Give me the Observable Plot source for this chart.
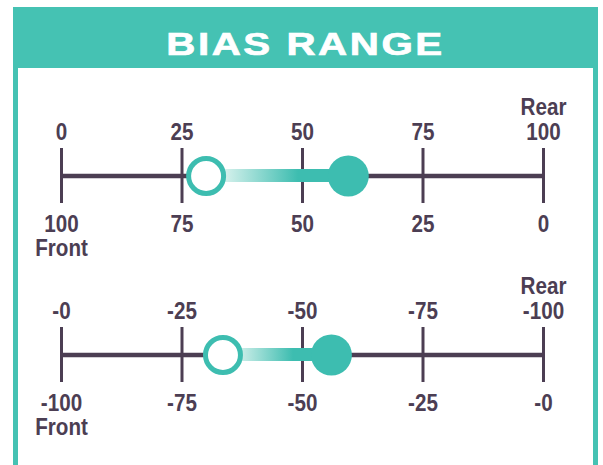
<!DOCTYPE html>
<html><head><meta charset="utf-8">
<script src="https://cdn.jsdelivr.net/npm/d3@7"></script>
<script src="https://cdn.jsdelivr.net/npm/@observablehq/plot@0.6"></script>
<style>
html,body{margin:0;padding:0;background:#fff;}
body{width:603px;height:465px;position:relative;overflow:hidden;font-family:"Liberation Sans",Arial,sans-serif;}
#frame{position:absolute;left:13px;top:7px;width:585px;height:458px;box-sizing:border-box;border-left:5px solid #45c2b3;border-right:5px solid #45c2b3;}
#header{position:absolute;left:13px;top:7px;width:585px;height:61px;background:#45c2b3;}
#title{position:absolute;left:0;right:0;top:21px;text-align:center;color:#fff;font:bold 32px/1 "Liberation Sans",Arial,sans-serif;letter-spacing:2px;transform:scaleX(1.26);-webkit-text-stroke:0.7px #fff;}
#chart{position:absolute;left:0;top:68px;}
</style></head><body>
<div id="frame"></div>
<div id="header"><div id="title">BIAS RANGE</div></div>
<div id="chart"></div>
<script>
// ---- data ----
const scaleRows = ["upper", "lower"];
const tickPositions = [0, 25, 50, 75, 100];
const upperRearLabels = ["0", "25", "50", "75", "100"];
const upperFrontLabels = ["100", "75", "50", "25", "0"];
const lowerRearLabels = ["-0", "-25", "-50", "-75", "-100"];
const lowerFrontLabels = ["-100", "-75", "-50", "-25", "-0"];
const rangeStart = [30, 33.5];
const rangeEnd = [59.5, 56];
const rearWord = "Rear";
const frontWord = "Front";

// ---- derived tables ----
const rearLabels = [upperRearLabels, lowerRearLabels];
const frontLabels = [upperFrontLabels, lowerFrontLabels];
const lo = tickPositions[0], hi = tickPositions[tickPositions.length - 1];
const axisLines = scaleRows.map(row => ({row, x1: lo, x2: hi}));
const ticks = scaleRows.flatMap(row => tickPositions.map(x => ({row, x})));
const topText = scaleRows.flatMap((row, j) => tickPositions.map((x, i) => ({
  row, x, text: (i === tickPositions.length - 1 ? rearWord + "\n" : "") + rearLabels[j][i]
})));
const bottomText = scaleRows.flatMap((row, j) => tickPositions.map((x, i) => ({
  row, x, text: frontLabels[j][i] + (i === 0 ? "\n" + frontWord : "")
})));
const ranges = scaleRows.map((row, j) => ({row, start: rangeStart[j], end: rangeEnd[j]}));

const teal = "#45c2b3";
const dotTeal = "#3dbdb0";
const ink = "#4c3e53";
const font = {fontSize: 24, fontWeight: "bold", fontFamily: "'Liberation Sans', Arial, sans-serif", fill: ink, lineHeight: 1.03};

const chart = Plot.plot({
  width: 603,
  height: 397,
  margin: 0,
  style: {background: "transparent", overflow: "visible"},
  x: {domain: [lo, hi], range: [61, 543], axis: null},
  y: {type: "band", domain: scaleRows, range: [80, 314], paddingInner: 0.693, paddingOuter: 0, axis: null},
  marks: [
    Plot.ruleY(axisLines, {y: "row", x1: "x1", x2: "x2", stroke: ink, strokeWidth: 4.5}),
    Plot.tickX(ticks, {x: "x", y: "row", stroke: ink, strokeWidth: 3}),
    Plot.barX(ranges, {y: "row", x1: "start", x2: "end", fill: "url(#biasGrad)", insetTop: 21, insetBottom: 21}),
    Plot.dot(ranges, {y: "row", x: "start", r: 17.5, fill: "white", stroke: dotTeal, strokeWidth: 5}),
    Plot.dot(ranges, {y: "row", x: "end", r: 20.5, fill: dotTeal, stroke: "none"}),
    Plot.text(topText, {x: "x", y: "row", text: "text", lineAnchor: "bottom", dy: -36.5, ...font}),
    Plot.text(bottomText, {x: "x", y: "row", text: "text", lineAnchor: "top", dy: 38, ...font})
  ]
});

const defs = d3.select(chart).insert("defs", ":first-child");
const grad = defs.append("linearGradient").attr("id", "biasGrad").attr("x1", "0").attr("x2", "1").attr("y1", "0").attr("y2", "0");
grad.append("stop").attr("offset", "0").attr("stop-color", "#e3f6f3");
grad.append("stop").attr("offset", "0.15").attr("stop-color", "#d0efea");
grad.append("stop").attr("offset", "0.65").attr("stop-color", dotTeal);
grad.append("stop").attr("offset", "1").attr("stop-color", dotTeal);

// condense the label glyphs horizontally (narrow bold face look)
d3.select(chart).selectAll("text").each(function() {
  const t = this.getAttribute("transform");
  if (t) this.setAttribute("transform", t + " scale(0.86,1)");
});

document.getElementById("chart").appendChild(chart);
</script>
</body></html>
